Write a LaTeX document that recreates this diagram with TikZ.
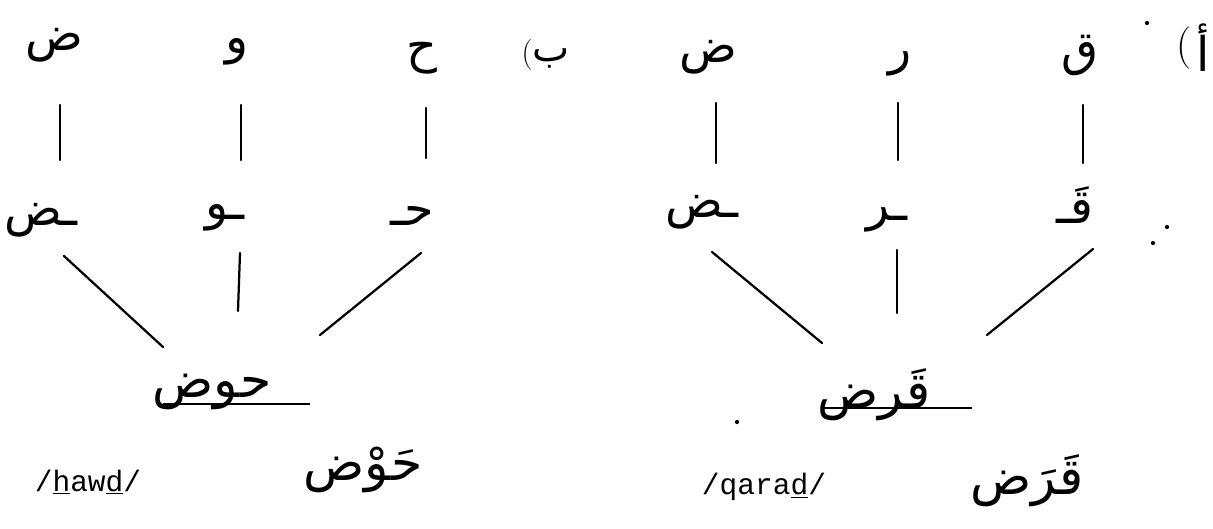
\documentclass[tikz,border=0pt]{standalone}
\usepackage{fontspec}
\usetikzlibrary{positioning}
\TeXXeTstate=1
\newfontfamily\arabicfont[Script=Arabic]{DejaVu Sans}
\newfontfamily\translitfont{Liberation Mono}
\newcommand{\arab}[1]{\beginR #1\endR}

\begin{document}
\begin{tikzpicture}[x=0.025cm,y=-0.025cm,
    letter/.style={inner sep=0pt,font=\arabicfont\fontsize{34}{40}\selectfont},
    word/.style={inner sep=0pt,font=\arabicfont\fontsize{36}{44}\selectfont},
    paren/.style={inner sep=0pt,font=\rmfamily\fontsize{30}{36}\selectfont},
    translit/.style={inner sep=0pt,font=\translitfont\fontsize{21}{24}\selectfont},
    link/.style={line width=1.6pt,line cap=round},
    speck/.style={fill,circle,inner sep=0pt,minimum size=3pt}]
\useasboundingbox (0,0) rectangle (1213,528);

\node[letter] (qaf1) at (1080,55) {\arab{ق}};
\node[letter] (ra1) at (900,64) {\arab{ر}};
\node[letter] (dad1) at (708,57) {\arab{ض}};
\node[letter] (qaf2) at (1075,205) {\arab{قَـ}};
\node[letter] (ra2) at (887,220) {\arab{ـر}};
\node[letter] (dad2) at (702,212) {\arab{ـض}};
\node[word] (qard) at (874,395) {\arab{قَرض}};
\node[translit] (qardlat) at (764,487) {/qara\underline{d}/};
\node[word] (qarad) at (1027,481) {\arab{قَرَض}};
\node[letter] (alif) at (1203,48) {\arab{أ}};
\node[paren,left=3pt of alif] (alifp) {(};

\draw[link] ([shift={(3,50)}]qaf1.center) -- ([shift={(8,-42)}]qaf2.center);
\draw[link] ([shift={(-2,39)}]ra1.center) -- ([shift={(11,-60)}]ra2.center);
\draw[link] ([shift={(8,46)}]dad1.center) -- ([shift={(14,-49)}]dad2.center);
\draw[link] ([shift={(10,40)}]dad2.center) -- ([shift={(-52,-52)}]qard.center);
\draw[link] ([shift={(10,30)}]ra2.center) -- ([shift={(23,-82)}]qard.center);
\draw[link] ([shift={(18,44)}]qaf2.center) -- ([shift={(113,-60)}]qard.center);
\draw[line width=1.2pt] ([shift={(-51,13)}]qard.center) -- ([shift={(98,13)}]qard.center);

\node[letter] (ha1) at (422,58) {\arab{ح}};
\node[letter] (waw1) at (237,52) {\arab{و}};
\node[letter] (dadb1) at (54,45) {\arab{ض}};
\node[letter] (ha2) at (412,216) {\arab{حـ}};
\node[letter] (waw2) at (225,218) {\arab{ـو}};
\node[letter] (dadb2) at (41,220) {\arab{ـض}};
\node[word] (hawd) at (212,392) {\arab{حوض}};
\node[translit] (hawdlat) at (88,482) {/\underline{h}aw\underline{d}/};
\node[word] (hawdv) at (363,470) {\arab{حَوْض}};
\node[letter,font=\arabicfont\fontsize{28}{34}\selectfont] (ba) at (551,58) {\arab{ب}};
\node[paren,font=\rmfamily\fontsize{22}{26}\selectfont] (bap) at (527,55) {(};

\draw[link] ([shift={(4,50)}]ha1.center) -- ([shift={(14,-58)}]ha2.center);
\draw[link] ([shift={(4,53)}]waw1.center) -- ([shift={(16,-58)}]waw2.center);
\draw[link] ([shift={(6,60)}]dadb1.center) -- ([shift={(19,-60)}]dadb2.center);
\draw[link] ([shift={(23,36)}]dadb2.center) -- ([shift={(-49,-45)}]hawd.center);
\draw[link] ([shift={(15,35)}]waw2.center) -- ([shift={(26,-81)}]hawd.center);
\draw[link] ([shift={(9,37)}]ha2.center) -- ([shift={(108,-57)}]hawd.center);
\draw[line width=1.2pt] ([shift={(-49,12)}]hawd.center) -- ([shift={(98,12)}]hawd.center);

\node[speck] (s1) at (1147,23) {};
\node[speck] (s2) at (1167,227) {};
\node[speck] (s3) at (1153,243) {};
\node[speck] (s4) at (737,422) {};
\end{tikzpicture}
\end{document}
